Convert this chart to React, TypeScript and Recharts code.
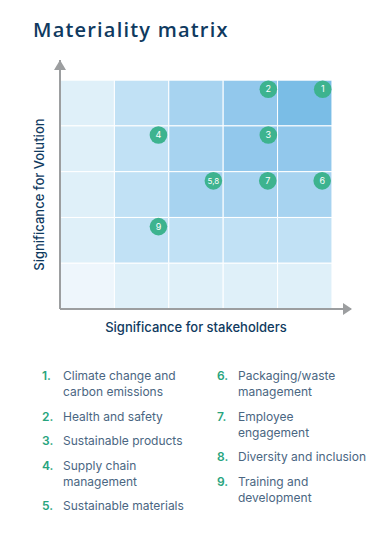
import React from 'react';
import { ScatterChart, Scatter, XAxis, YAxis, ReferenceArea, ReferenceDot } from 'recharts';

// shading level for every cell, top row first (5 columns x 5 rows)
const cellLevels = [
  [1, 2, 3, 4, 5],
  [1, 2, 3, 4, 4],
  [1, 2, 3, 3, 3],
  [1, 2, 2, 2, 2],
  [0, 1, 1, 1, 1],
];
const levelColors = ['#eef6fc', '#dff0f9', '#c1e1f5', '#a7d3f0', '#92c8ec', '#7abde6'];

const pointLabels = ['1', '2', '3', '4', '5,8', '6', '7', '9'];
const stakeholderScore = [4.83, 3.83, 3.83, 1.81, 2.82, 4.82, 3.82, 1.81];
const volutionScore = [4.8, 4.8, 3.8, 3.8, 2.8, 2.8, 2.8, 1.8];

const topicNumbers = ['1.', '2.', '3.', '4.', '5.', '6.', '7.', '8.', '9.'];
const topicNames = [
  ['Climate change and', 'carbon emissions'],
  ['Health and safety'],
  ['Sustainable products'],
  ['Supply chain', 'management'],
  ['Sustainable materials'],
  ['Packaging/waste', 'management'],
  ['Employee', 'engagement'],
  ['Diversity and inclusion'],
  ['Training and', 'development'],
];

const X_MAX = 5.35;
const Y_MAX = 5.44;
const NAVY = '#0f3a60';
const GREEN = '#3db38f';
const AXIS_GREY = '#9c9ea0';

const points = pointLabels.map((label, i) => ({
  label,
  x: stakeholderScore[i],
  y: volutionScore[i],
}));

const Bubble = (props: any) => {
  const { cx, cy, payload } = props;
  return (
    <g>
      <circle cx={cx} cy={cy} r={8.8} fill={GREEN} />
      <text
        x={cx}
        y={cy + 3}
        textAnchor="middle"
        fill="#ffffff"
        fontSize={payload.label.length > 1 ? 8 : 9}
        fontFamily="Inter, sans-serif"
      >
        {payload.label}
      </text>
    </g>
  );
};

const ArrowRight = (props: any) => (
  <polygon points={`${props.cx - 8},${props.cy - 6} ${props.cx + 1},${props.cy} ${props.cx - 8},${props.cy + 6}`} fill={AXIS_GREY} />
);
const ArrowUp = (props: any) => (
  <polygon points={`${props.cx - 6},${props.cy + 10} ${props.cx},${props.cy} ${props.cx + 6},${props.cy + 10}`} fill={AXIS_GREY} />
);

const XTitle = (props: any) => {
  const { x, y, width } = props.viewBox;
  const cellW = width / X_MAX;
  return (
    <text x={x + cellW * 2.5} y={y + 23} textAnchor="middle" fill={NAVY} fontSize={13} fontWeight={500} fontFamily="Inter, sans-serif">
      Significance for stakeholders
    </text>
  );
};

const YTitle = (props: any) => {
  const { x, y, width, height } = props.viewBox;
  const cellH = height / Y_MAX;
  const cy = y + height - cellH * 2.5;
  const cx = x + width - 16;
  return (
    <text x={cx} y={cy} transform={`rotate(-90, ${cx}, ${cy})`} textAnchor="middle" fill={NAVY} fontSize={13} fontWeight={500} fontFamily="Inter, sans-serif">
      Significance for Volution
    </text>
  );
};

const LegendColumn = ({ start, end, left }: { start: number; end: number; left: number }) => (
  <div style={{ position: 'absolute', left, top: 368 }}>
    {topicNames.slice(start, end).map((lines, i) => (
      <div key={i} style={{ display: 'flex', marginBottom: 8.6, lineHeight: '16px' }}>
        <div style={{ width: 21, color: '#27a47d', fontWeight: 600 }}>{topicNumbers[start + i]}</div>
        <div style={{ color: '#4a6682' }}>
          {lines.map((l) => (
            <div key={l}>{l}</div>
          ))}
        </div>
      </div>
    ))}
  </div>
);

export default function App() {
  return (
    <div style={{ position: 'absolute', left: 0, top: 0, width: 384, height: 544, background: '#ffffff', fontFamily: 'Inter, sans-serif', fontSize: 12 }}>
      <div style={{ position: 'absolute', left: 33, top: 16, fontSize: 20, fontWeight: 600, letterSpacing: 1.2, color: NAVY, fontFamily: '"Open Sans", sans-serif' }}>
        Materiality matrix
      </div>
      <div style={{ position: 'absolute', left: 0, top: 0 }}>
        <ScatterChart width={384} height={345} margin={{ top: 60, right: 33, bottom: 0, left: 20 }}>
          <XAxis
            type="number"
            dataKey="x"
            domain={[0, X_MAX]}
            allowDataOverflow
            height={36}
            tick={false}
            tickLine={false}
            axisLine={{ stroke: AXIS_GREY, strokeWidth: 2 }}
            label={<XTitle />}
          />
          <YAxis
            type="number"
            dataKey="y"
            domain={[0, Y_MAX]}
            allowDataOverflow
            width={40}
            tick={false}
            tickLine={false}
            axisLine={{ stroke: AXIS_GREY, strokeWidth: 2 }}
            label={<YTitle />}
          />
          {cellLevels.map((row, r) =>
            row.map((level, c) => (
              <ReferenceArea
                key={`cell-${r}-${c}`}
                x1={c}
                x2={c + 1}
                y1={4 - r}
                y2={5 - r}
                fill={levelColors[level]}
                fillOpacity={1}
                stroke="#ffffff"
                strokeWidth={1}
              />
            ))
          )}
          <ReferenceDot x={X_MAX} y={0} ifOverflow="visible" shape={<ArrowRight />} />
          <ReferenceDot x={0} y={Y_MAX} ifOverflow="visible" shape={<ArrowUp />} />
          <Scatter data={points} shape={<Bubble />} isAnimationActive={false} />
        </ScatterChart>
      </div>
      <LegendColumn start={0} end={5} left={42} />
      <LegendColumn start={5} end={9} left={217} />
    </div>
  );
}
